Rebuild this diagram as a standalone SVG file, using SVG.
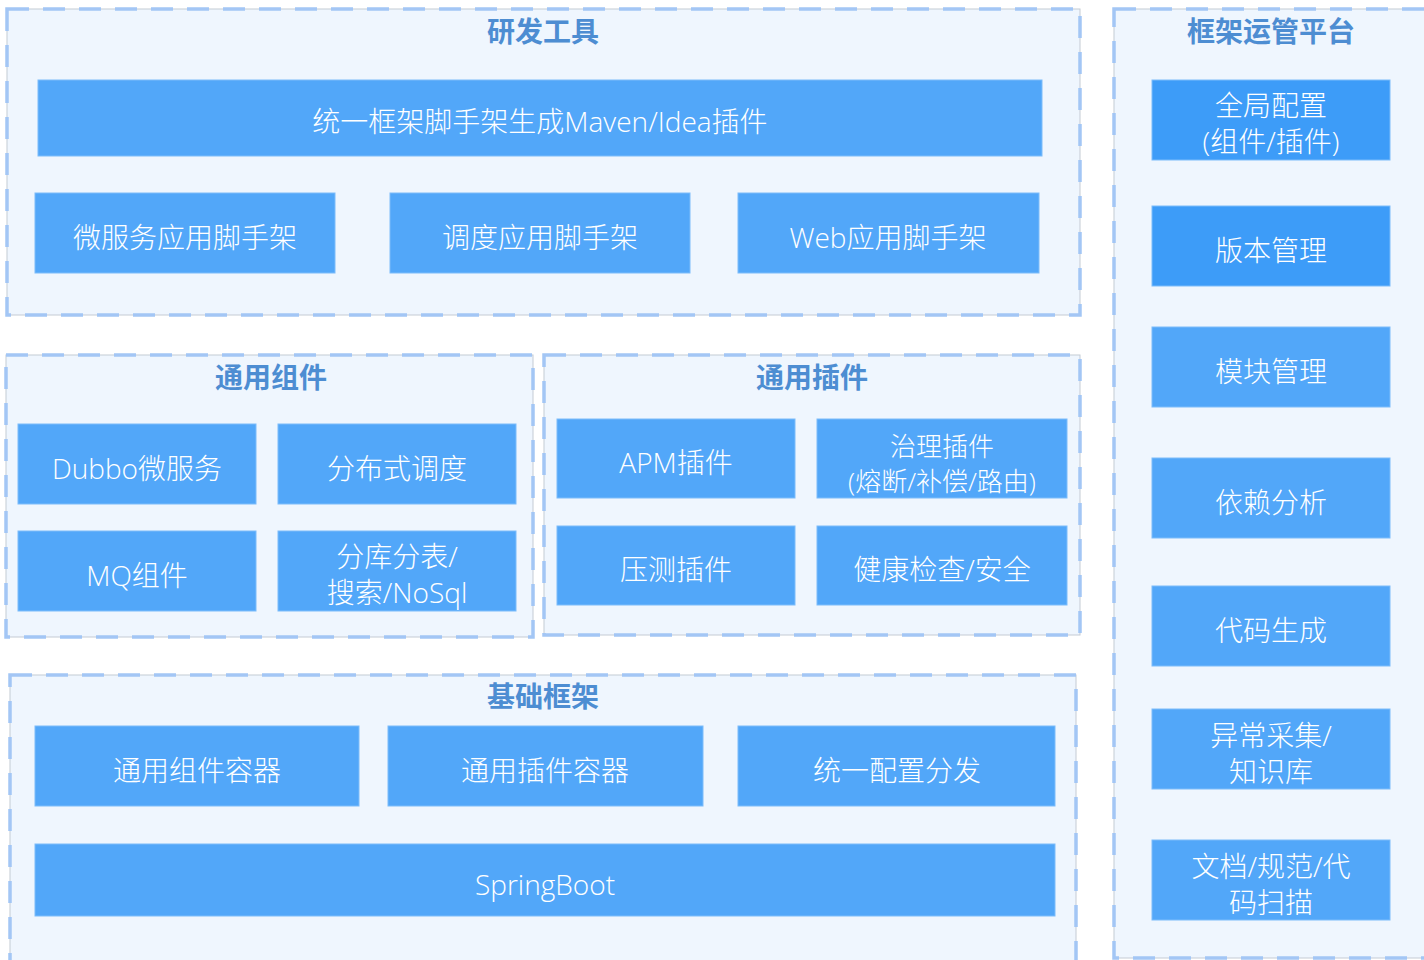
<svg xmlns="http://www.w3.org/2000/svg" width="1424" height="960" viewBox="0 0 1424 960">
<style>
.panel{fill:#EFF6FE;stroke:#C4CBD4;stroke-width:1}
.dash{fill:none;stroke:#A3C6F5;stroke-width:3.5;stroke-dasharray:22 14}
.box{fill:#52A7F9;stroke:#7DBCFA;stroke-width:1}
.box2{fill:#3D9CF8;stroke:#7DBCFA;stroke-width:1}
.t{font-family:"Open Sans","Noto Sans CJK SC",sans-serif;font-size:28px;fill:#FFFFFF;text-anchor:middle;font-weight:300}
.s{font-size:26px}
.h{font-family:"Noto Sans CJK SC","Noto Sans",sans-serif;font-size:28px;fill:#4D8DD2;text-anchor:middle;font-weight:700}
</style>
<rect width="1424" height="960" fill="#FFFFFF"/>
<g id="panel-dev">
<rect class="panel" x="7" y="9" width="1073" height="306"/>
<rect class="dash" x="7" y="9" width="1073" height="306"/>
<text class="h" x="543" y="42">研发工具</text>
</g>
<g id="panel-ops">
<rect class="panel" x="1114" y="9" width="320" height="949"/>
<rect class="dash" x="1114" y="9" width="320" height="949"/>
<text class="h" x="1271" y="42">框架运管平台</text>
</g>
<g id="panel-comp">
<rect class="panel" x="6" y="355" width="527" height="282"/>
<rect class="dash" x="6" y="355" width="527" height="282"/>
<text class="h" x="271" y="388">通用组件</text>
</g>
<g id="panel-plugin">
<rect class="panel" x="544" y="355" width="536" height="280"/>
<rect class="dash" x="544" y="355" width="536" height="280"/>
<text class="h" x="812" y="388">通用插件</text>
</g>
<g id="panel-base">
<rect class="panel" x="10" y="675" width="1066" height="290"/>
<rect class="dash" x="10" y="675" width="1066" height="290"/>
<text class="h" x="543" y="707">基础框架</text>
</g>
<g id="n-scaffold-plugin"><rect class="box" x="38" y="80" width="1004" height="76"/><text class="t" x="540" y="132">统一框架脚手架生成Maven/Idea插件</text></g>
<g id="n-ms-scaffold"><rect class="box" x="35" y="193" width="300" height="80"/><text class="t" x="185" y="248">微服务应用脚手架</text></g>
<g id="n-sched-scaffold"><rect class="box" x="390" y="193" width="300" height="80"/><text class="t" x="540" y="248">调度应用脚手架</text></g>
<g id="n-web-scaffold"><rect class="box" x="738" y="193" width="301" height="80"/><text class="t" x="888" y="248">Web应用脚手架</text></g>
<g id="n-dubbo"><rect class="box" x="18" y="424" width="238" height="80"/><text class="t" x="137" y="479">Dubbo微服务</text></g>
<g id="n-dist-sched"><rect class="box" x="278" y="424" width="238" height="80"/><text class="t" x="397" y="479">分布式调度</text></g>
<g id="n-mq"><rect class="box" x="18" y="531" width="238" height="80"/><text class="t" x="137" y="586">MQ组件</text></g>
<g id="n-sharding"><rect class="box" x="278" y="531" width="238" height="80"/><text class="t" x="397" y="567">分库分表/</text><text class="t" x="397" y="603">搜索/NoSql</text></g>
<g id="n-apm"><rect class="box" x="557" y="419" width="238" height="79"/><text class="t" x="676" y="473">APM插件</text></g>
<g id="n-gov"><rect class="box" x="817" y="419" width="250" height="79"/><text class="t s" x="942" y="456">治理插件</text><text class="t s" x="942" y="491">(熔断/补偿/路由)</text></g>
<g id="n-stress"><rect class="box" x="557" y="526" width="238" height="79"/><text class="t" x="676" y="580">压测插件</text></g>
<g id="n-health"><rect class="box" x="817" y="526" width="250" height="79"/><text class="t" x="942" y="580">健康检查/安全</text></g>
<g id="n-comp-container"><rect class="box" x="35" y="726" width="324" height="80"/><text class="t" x="197" y="781">通用组件容器</text></g>
<g id="n-plugin-container"><rect class="box" x="388" y="726" width="315" height="80"/><text class="t" x="545" y="781">通用插件容器</text></g>
<g id="n-config"><rect class="box" x="738" y="726" width="317" height="80"/><text class="t" x="897" y="781">统一配置分发</text></g>
<g id="n-springboot"><rect class="box" x="35" y="844" width="1020" height="72"/><text class="t" x="545" y="895">SpringBoot</text></g>
<g id="n-global-config"><rect class="box2" x="1152" y="80" width="238" height="80"/><text class="t" x="1271" y="116">全局配置</text><text class="t" x="1271" y="152">(组件/插件)</text></g>
<g id="n-version"><rect class="box2" x="1152" y="206" width="238" height="80"/><text class="t" x="1271" y="261">版本管理</text></g>
<g id="n-module"><rect class="box" x="1152" y="327" width="238" height="80"/><text class="t" x="1271" y="382">模块管理</text></g>
<g id="n-dep"><rect class="box" x="1152" y="458" width="238" height="80"/><text class="t" x="1271" y="513">依赖分析</text></g>
<g id="n-codegen"><rect class="box" x="1152" y="586" width="238" height="80"/><text class="t" x="1271" y="641">代码生成</text></g>
<g id="n-exception"><rect class="box" x="1152" y="709" width="238" height="80"/><text class="t" x="1271" y="746">异常采集/</text><text class="t" x="1271" y="782">知识库</text></g>
<g id="n-docs"><rect class="box" x="1152" y="840" width="238" height="80"/><text class="t" x="1271" y="877">文档/规范/代</text><text class="t" x="1271" y="913">码扫描</text></g>
<g id="connectors"></g>
</svg>
